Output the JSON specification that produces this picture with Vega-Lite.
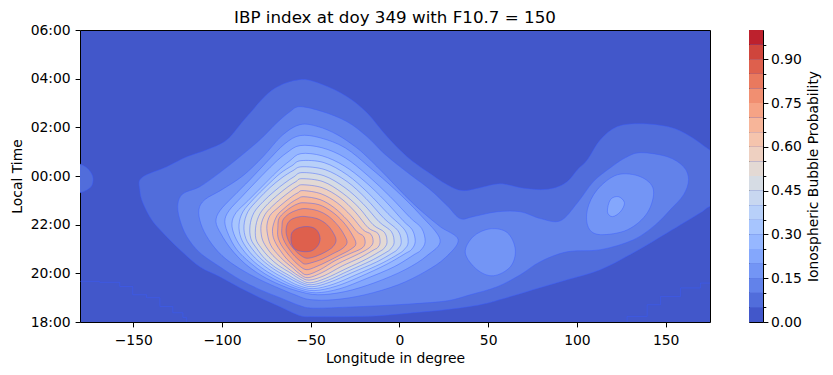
{
  "$schema": "https://vega.github.io/schema/vega-lite/v6.json",
  "padding": {"left": 10, "top": 9, "right": 5, "bottom": 5},
  "config": {
    "font": "DejaVu Sans",
    "view": {"stroke": "#000000", "strokeWidth": 1, "fill": "#4257ca"},
    "axis": {"labelFont": "DejaVu Sans", "titleFont": "DejaVu Sans", "labelFontSize": 13.9, "titleFontSize": 13.9, "titleFontWeight": "normal", "labelColor": "#000000", "titleColor": "#000000", "tickColor": "#000000", "tickSize": 4.9, "tickWidth": 1, "labelPadding": 4.9, "titlePadding": 5.6, "domain": false, "grid": false}
  },
  "datasets": {
    "contours": [
      {"p":"a","lvl":0.05,"lon":-56.0,"lt":27.96},{"p":"a","lvl":0.05,"lon":-43.1,"lt":27.75},{"p":"a","lvl":0.05,"lon":-29.5,"lt":27.26},{"p":"a","lvl":0.05,"lon":-18.3,"lt":26.60},{"p":"a","lvl":0.05,"lon":-7.0,"lt":25.62},{"p":"a","lvl":0.05,"lon":4.3,"lt":24.79},{"p":"a","lvl":0.05,"lon":15.6,"lt":24.18},{"p":"a","lvl":0.05,"lon":26.9,"lt":23.64},{"p":"a","lvl":0.05,"lon":35.4,"lt":23.40},{"p":"a","lvl":0.05,"lon":45.5,"lt":23.52},{"p":"a","lvl":0.05,"lon":56.8,"lt":23.68},{"p":"a","lvl":0.05,"lon":68.1,"lt":23.52},{"p":"a","lvl":0.05,"lon":79.4,"lt":23.44},{"p":"a","lvl":0.05,"lon":87.8,"lt":23.52},{"p":"a","lvl":0.05,"lon":94.6,"lt":23.77},{"p":"a","lvl":0.05,"lon":100.3,"lt":24.26},{"p":"a","lvl":0.05,"lon":105.9,"lt":24.67},{"p":"a","lvl":0.05,"lon":113.2,"lt":25.49},{"p":"a","lvl":0.05,"lon":122.8,"lt":26.03},{"p":"a","lvl":0.05,"lon":135.8,"lt":26.15},{"p":"a","lvl":0.05,"lon":151.0,"lt":26.03},{"p":"a","lvl":0.05,"lon":162.3,"lt":25.70},{"p":"a","lvl":0.05,"lon":174.7,"lt":25.08},{"p":"a","lvl":0.05,"lon":186.6,"lt":24.46},{"p":"a","lvl":0.05,"lon":186.6,"lt":23.03},{"p":"a","lvl":0.05,"lon":174.7,"lt":22.74},{"p":"a","lvl":0.05,"lon":169.6,"lt":22.49},{"p":"a","lvl":0.05,"lon":151.0,"lt":21.67},{"p":"a","lvl":0.05,"lon":131.9,"lt":20.85},{"p":"a","lvl":0.05,"lon":113.2,"lt":20.15},{"p":"a","lvl":0.05,"lon":94.6,"lt":19.74},{"p":"a","lvl":0.05,"lon":75.4,"lt":19.33},{"p":"a","lvl":0.05,"lon":56.8,"lt":18.92},{"p":"a","lvl":0.05,"lon":45.5,"lt":18.71},{"p":"a","lvl":0.05,"lon":26.9,"lt":18.51},{"p":"a","lvl":0.05,"lon":7.7,"lt":18.38},{"p":"a","lvl":0.05,"lon":-10.9,"lt":18.26},{"p":"a","lvl":0.05,"lon":-29.5,"lt":18.22},{"p":"a","lvl":0.05,"lon":-48.7,"lt":18.22},{"p":"a","lvl":0.05,"lon":-56.0,"lt":18.26},{"p":"a","lvl":0.05,"lon":-67.3,"lt":18.63},{"p":"a","lvl":0.05,"lon":-78.6,"lt":19.00},{"p":"a","lvl":0.05,"lon":-89.9,"lt":19.41},{"p":"a","lvl":0.05,"lon":-101.2,"lt":19.86},{"p":"a","lvl":0.05,"lon":-112.5,"lt":20.27},{"p":"a","lvl":0.05,"lon":-123.7,"lt":20.97},{"p":"a","lvl":0.05,"lon":-133.3,"lt":21.67},{"p":"a","lvl":0.05,"lon":-139.6,"lt":22.20},{"p":"a","lvl":0.05,"lon":-144.6,"lt":22.90},{"p":"a","lvl":0.05,"lon":-146.3,"lt":23.44},{"p":"a","lvl":0.05,"lon":-145.2,"lt":23.93},{"p":"a","lvl":0.05,"lon":-131.1,"lt":24.38},{"p":"a","lvl":0.05,"lon":-119.8,"lt":24.79},{"p":"a","lvl":0.05,"lon":-108.5,"lt":25.08},{"p":"a","lvl":0.05,"lon":-97.2,"lt":25.49},{"p":"a","lvl":0.05,"lon":-86.0,"lt":26.44},{"p":"a","lvl":0.05,"lon":-71.3,"lt":27.55},
      {"p":"b","lvl":0.05,"lon":-185.8,"lt":24.67},{"p":"b","lvl":0.05,"lon":-180.2,"lt":24.50},{"p":"b","lvl":0.05,"lon":-175.6,"lt":24.30},{"p":"b","lvl":0.05,"lon":-172.8,"lt":23.97},{"p":"b","lvl":0.05,"lon":-173.4,"lt":23.60},{"p":"b","lvl":0.05,"lon":-176.8,"lt":23.40},{"p":"b","lvl":0.05,"lon":-180.2,"lt":23.31},{"p":"b","lvl":0.05,"lon":-185.8,"lt":23.27},
      {"p":"c","lvl":0.1,"lon":-56.0,"lt":26.85},{"p":"c","lvl":0.1,"lon":-43.1,"lt":26.64},{"p":"c","lvl":0.1,"lon":-29.5,"lt":26.23},{"p":"c","lvl":0.1,"lon":-18.3,"lt":25.62},{"p":"c","lvl":0.1,"lon":-9.2,"lt":24.96},{"p":"c","lvl":0.1,"lon":0.4,"lt":24.38},{"p":"c","lvl":0.1,"lon":7.7,"lt":23.97},{"p":"c","lvl":0.1,"lon":17.3,"lt":23.44},{"p":"c","lvl":0.1,"lon":26.9,"lt":22.78},{"p":"c","lvl":0.1,"lon":34.2,"lt":22.25},{"p":"c","lvl":0.1,"lon":41.6,"lt":22.33},{"p":"c","lvl":0.1,"lon":55.1,"lt":22.53},{"p":"c","lvl":0.1,"lon":68.1,"lt":22.53},{"p":"c","lvl":0.1,"lon":79.4,"lt":22.25},{"p":"c","lvl":0.1,"lon":90.7,"lt":22.16},{"p":"c","lvl":0.1,"lon":100.3,"lt":22.90},{"p":"c","lvl":0.1,"lon":109.3,"lt":23.77},{"p":"c","lvl":0.1,"lon":118.9,"lt":24.34},{"p":"c","lvl":0.1,"lon":127.3,"lt":24.75},{"p":"c","lvl":0.1,"lon":135.8,"lt":24.96},{"p":"c","lvl":0.1,"lon":151.0,"lt":24.79},{"p":"c","lvl":0.1,"lon":160.1,"lt":24.38},{"p":"c","lvl":0.1,"lon":162.9,"lt":23.85},{"p":"c","lvl":0.1,"lon":160.1,"lt":23.23},{"p":"c","lvl":0.1,"lon":152.7,"lt":22.62},{"p":"c","lvl":0.1,"lon":144.3,"lt":22.00},{"p":"c","lvl":0.1,"lon":131.9,"lt":21.38},{"p":"c","lvl":0.1,"lon":113.2,"lt":20.97},{"p":"c","lvl":0.1,"lon":94.6,"lt":20.89},{"p":"c","lvl":0.1,"lon":79.4,"lt":20.48},{"p":"c","lvl":0.1,"lon":68.1,"lt":19.94},{"p":"c","lvl":0.1,"lon":55.1,"lt":19.45},{"p":"c","lvl":0.1,"lon":39.9,"lt":19.12},{"p":"c","lvl":0.1,"lon":26.9,"lt":18.87},{"p":"c","lvl":0.1,"lon":7.7,"lt":18.75},{"p":"c","lvl":0.1,"lon":-10.9,"lt":18.67},{"p":"c","lvl":0.1,"lon":-29.5,"lt":18.61},{"p":"c","lvl":0.1,"lon":-48.7,"lt":18.57},{"p":"c","lvl":0.1,"lon":-56.0,"lt":18.67},{"p":"c","lvl":0.1,"lon":-67.3,"lt":19.00},{"p":"c","lvl":0.1,"lon":-78.6,"lt":19.33},{"p":"c","lvl":0.1,"lon":-89.9,"lt":19.74},{"p":"c","lvl":0.1,"lon":-101.2,"lt":20.27},{"p":"c","lvl":0.1,"lon":-112.5,"lt":20.85},{"p":"c","lvl":0.1,"lon":-119.8,"lt":21.51},{"p":"c","lvl":0.1,"lon":-123.7,"lt":22.20},{"p":"c","lvl":0.1,"lon":-124.9,"lt":22.82},{"p":"c","lvl":0.1,"lon":-122.0,"lt":23.27},{"p":"c","lvl":0.1,"lon":-112.5,"lt":23.56},{"p":"c","lvl":0.1,"lon":-101.2,"lt":24.14},{"p":"c","lvl":0.1,"lon":-89.9,"lt":24.79},{"p":"c","lvl":0.1,"lon":-78.6,"lt":25.49},{"p":"c","lvl":0.1,"lon":-69.0,"lt":26.19},{"p":"c","lvl":0.1,"lon":-61.7,"lt":26.64},
      {"p":"d","lvl":0.15,"lon":-56.0,"lt":26.11},{"p":"d","lvl":0.15,"lon":-45.9,"lt":26.03},{"p":"d","lvl":0.15,"lon":-35.1,"lt":25.70},{"p":"d","lvl":0.15,"lon":-25.0,"lt":25.21},{"p":"d","lvl":0.15,"lon":-18.3,"lt":24.79},{"p":"d","lvl":0.15,"lon":-7.0,"lt":23.97},{"p":"d","lvl":0.15,"lon":3.2,"lt":23.19},{"p":"d","lvl":0.15,"lon":12.8,"lt":22.53},{"p":"d","lvl":0.15,"lon":22.9,"lt":21.92},{"p":"d","lvl":0.15,"lon":33.1,"lt":21.38},{"p":"d","lvl":0.15,"lon":25.8,"lt":20.64},{"p":"d","lvl":0.15,"lon":14.5,"lt":20.07},{"p":"d","lvl":0.15,"lon":-0.7,"lt":19.53},{"p":"d","lvl":0.15,"lon":-19.4,"lt":19.12},{"p":"d","lvl":0.15,"lon":-36.3,"lt":18.92},{"p":"d","lvl":0.15,"lon":-50.4,"lt":18.92},{"p":"d","lvl":0.15,"lon":-58.9,"lt":19.12},{"p":"d","lvl":0.15,"lon":-67.3,"lt":19.37},{"p":"d","lvl":0.15,"lon":-78.6,"lt":19.74},{"p":"d","lvl":0.15,"lon":-89.9,"lt":20.19},{"p":"d","lvl":0.15,"lon":-100.0,"lt":20.73},{"p":"d","lvl":0.15,"lon":-107.4,"lt":21.38},{"p":"d","lvl":0.15,"lon":-111.9,"lt":22.04},{"p":"d","lvl":0.15,"lon":-113.0,"lt":22.62},{"p":"d","lvl":0.15,"lon":-109.6,"lt":23.03},{"p":"d","lvl":0.15,"lon":-100.0,"lt":23.44},{"p":"d","lvl":0.15,"lon":-88.2,"lt":24.01},{"p":"d","lvl":0.15,"lon":-76.9,"lt":24.79},{"p":"d","lvl":0.15,"lon":-66.2,"lt":25.66},
      {"p":"e","lvl":0.15,"lon":37.1,"lt":20.84},{"p":"e","lvl":0.15,"lon":41.6,"lt":21.51},{"p":"e","lvl":0.15,"lon":51.2,"lt":21.83},{"p":"e","lvl":0.15,"lon":60.8,"lt":21.67},{"p":"e","lvl":0.15,"lon":65.3,"lt":20.97},{"p":"e","lvl":0.15,"lon":62.5,"lt":20.27},{"p":"e","lvl":0.15,"lon":52.9,"lt":19.90},{"p":"e","lvl":0.15,"lon":43.8,"lt":20.15},
      {"p":"f","lvl":0.15,"lon":105.9,"lt":22.62},{"p":"f","lvl":0.15,"lon":111.5,"lt":23.44},{"p":"f","lvl":0.15,"lon":122.8,"lt":24.05},{"p":"f","lvl":0.15,"lon":135.8,"lt":23.97},{"p":"f","lvl":0.15,"lon":143.1,"lt":23.44},{"p":"f","lvl":0.15,"lon":139.7,"lt":22.49},{"p":"f","lvl":0.15,"lon":128.5,"lt":21.79},{"p":"f","lvl":0.15,"lon":113.2,"lt":21.59},{"p":"f","lvl":0.15,"lon":106.5,"lt":21.88},
      {"p":"g","lvl":0.2,"lon":-56.0,"lt":25.66},{"p":"g","lvl":0.2,"lon":-44.7,"lt":25.57},{"p":"g","lvl":0.2,"lon":-30.6,"lt":25.16},{"p":"g","lvl":0.2,"lon":-16.5,"lt":24.34},{"p":"g","lvl":0.2,"lon":-2.4,"lt":23.44},{"p":"g","lvl":0.2,"lon":11.7,"lt":22.41},{"p":"g","lvl":0.2,"lon":22.9,"lt":21.38},{"p":"g","lvl":0.2,"lon":15.6,"lt":20.73},{"p":"g","lvl":0.2,"lon":3.2,"lt":20.15},{"p":"g","lvl":0.2,"lon":-13.8,"lt":19.62},{"p":"g","lvl":0.2,"lon":-30.6,"lt":19.25},{"p":"g","lvl":0.2,"lon":-45.9,"lt":19.12},{"p":"g","lvl":0.2,"lon":-57.2,"lt":19.27},{"p":"g","lvl":0.2,"lon":-67.3,"lt":19.53},{"p":"g","lvl":0.2,"lon":-77.5,"lt":19.90},{"p":"g","lvl":0.2,"lon":-87.1,"lt":20.40},{"p":"g","lvl":0.2,"lon":-95.0,"lt":21.01},{"p":"g","lvl":0.2,"lon":-100.6,"lt":21.63},{"p":"g","lvl":0.2,"lon":-103.4,"lt":22.12},{"p":"g","lvl":0.2,"lon":-101.2,"lt":22.57},{"p":"g","lvl":0.2,"lon":-93.8,"lt":23.15},{"p":"g","lvl":0.2,"lon":-84.2,"lt":23.85},{"p":"g","lvl":0.2,"lon":-74.1,"lt":24.63},{"p":"g","lvl":0.2,"lon":-64.5,"lt":25.33},
      {"p":"h","lvl":0.2,"lon":117.2,"lt":22.53},{"p":"h","lvl":0.2,"lon":118.9,"lt":23.03},{"p":"h","lvl":0.2,"lon":123.4,"lt":23.15},{"p":"h","lvl":0.2,"lon":126.8,"lt":22.90},{"p":"h","lvl":0.2,"lon":124.5,"lt":22.53},{"p":"h","lvl":0.2,"lon":120.0,"lt":22.33},
      {"p":"i","lvl":0.25,"lon":-56.0,"lt":25.25},{"p":"i","lvl":0.25,"lon":-43.6,"lt":25.16},{"p":"i","lvl":0.25,"lon":-30.6,"lt":24.75},{"p":"i","lvl":0.25,"lon":-17.7,"lt":24.01},{"p":"i","lvl":0.25,"lon":-5.2,"lt":23.15},{"p":"i","lvl":0.25,"lon":6.0,"lt":22.29},{"p":"i","lvl":0.25,"lon":12.5,"lt":21.85},{"p":"i","lvl":0.25,"lon":14.5,"lt":21.30},{"p":"i","lvl":0.25,"lon":12.0,"lt":20.95},{"p":"i","lvl":0.25,"lon":8.3,"lt":20.77},{"p":"i","lvl":0.25,"lon":-3.0,"lt":20.27},{"p":"i","lvl":0.25,"lon":-18.8,"lt":19.78},{"p":"i","lvl":0.25,"lon":-33.5,"lt":19.37},{"p":"i","lvl":0.25,"lon":-47.0,"lt":19.20},{"p":"i","lvl":0.25,"lon":-57.2,"lt":19.35},{"p":"i","lvl":0.25,"lon":-66.2,"lt":19.61},{"p":"i","lvl":0.25,"lon":-75.8,"lt":19.98},{"p":"i","lvl":0.25,"lon":-84.2,"lt":20.44},{"p":"i","lvl":0.25,"lon":-91.6,"lt":20.97},{"p":"i","lvl":0.25,"lon":-96.1,"lt":21.55},{"p":"i","lvl":0.25,"lon":-98.4,"lt":22.12},{"p":"i","lvl":0.25,"lon":-96.1,"lt":22.57},{"p":"i","lvl":0.25,"lon":-88.8,"lt":23.15},{"p":"i","lvl":0.25,"lon":-79.7,"lt":23.85},{"p":"i","lvl":0.25,"lon":-70.7,"lt":24.51},{"p":"i","lvl":0.25,"lon":-63.4,"lt":24.96},
      {"p":"j","lvl":0.3,"lon":-55.5,"lt":24.92},{"p":"j","lvl":0.3,"lon":-43.6,"lt":24.83},{"p":"j","lvl":0.3,"lon":-31.2,"lt":24.42},{"p":"j","lvl":0.3,"lon":-19.4,"lt":23.77},{"p":"j","lvl":0.3,"lon":-8.1,"lt":22.98},{"p":"j","lvl":0.3,"lon":2.1,"lt":22.16},{"p":"j","lvl":0.3,"lon":7.3,"lt":21.78},{"p":"j","lvl":0.3,"lon":8.9,"lt":21.30},{"p":"j","lvl":0.3,"lon":6.8,"lt":20.98},{"p":"j","lvl":0.3,"lon":3.2,"lt":20.81},{"p":"j","lvl":0.3,"lon":-7.5,"lt":20.36},{"p":"j","lvl":0.3,"lon":-22.2,"lt":19.86},{"p":"j","lvl":0.3,"lon":-35.7,"lt":19.47},{"p":"j","lvl":0.3,"lon":-48.1,"lt":19.29},{"p":"j","lvl":0.3,"lon":-57.2,"lt":19.43},{"p":"j","lvl":0.3,"lon":-65.6,"lt":19.70},{"p":"j","lvl":0.3,"lon":-74.1,"lt":20.05},{"p":"j","lvl":0.3,"lon":-82.0,"lt":20.48},{"p":"j","lvl":0.3,"lon":-88.2,"lt":20.97},{"p":"j","lvl":0.3,"lon":-92.7,"lt":21.51},{"p":"j","lvl":0.3,"lon":-94.4,"lt":22.04},{"p":"j","lvl":0.3,"lon":-92.1,"lt":22.49},{"p":"j","lvl":0.3,"lon":-85.4,"lt":22.98},{"p":"j","lvl":0.3,"lon":-77.5,"lt":23.56},{"p":"j","lvl":0.3,"lon":-69.0,"lt":24.18},{"p":"j","lvl":0.3,"lon":-61.7,"lt":24.63},
      {"p":"k","lvl":0.35,"lon":-55.5,"lt":24.63},{"p":"k","lvl":0.35,"lon":-42.5,"lt":24.55},{"p":"k","lvl":0.35,"lon":-29.5,"lt":24.05},{"p":"k","lvl":0.35,"lon":-17.7,"lt":23.31},{"p":"k","lvl":0.35,"lon":-6.4,"lt":22.45},{"p":"k","lvl":0.35,"lon":3.0,"lt":21.78},{"p":"k","lvl":0.35,"lon":4.9,"lt":21.26},{"p":"k","lvl":0.35,"lon":2.7,"lt":20.98},{"p":"k","lvl":0.35,"lon":-0.2,"lt":20.81},{"p":"k","lvl":0.35,"lon":-10.3,"lt":20.40},{"p":"k","lvl":0.35,"lon":-24.5,"lt":19.94},{"p":"k","lvl":0.35,"lon":-37.4,"lt":19.55},{"p":"k","lvl":0.35,"lon":-48.7,"lt":19.37},{"p":"k","lvl":0.35,"lon":-57.2,"lt":19.51},{"p":"k","lvl":0.35,"lon":-64.5,"lt":19.78},{"p":"k","lvl":0.35,"lon":-72.4,"lt":20.11},{"p":"k","lvl":0.35,"lon":-79.7,"lt":20.52},{"p":"k","lvl":0.35,"lon":-85.4,"lt":20.97},{"p":"k","lvl":0.35,"lon":-89.3,"lt":21.46},{"p":"k","lvl":0.35,"lon":-90.4,"lt":22.00},{"p":"k","lvl":0.35,"lon":-88.2,"lt":22.53},{"p":"k","lvl":0.35,"lon":-82.0,"lt":23.07},{"p":"k","lvl":0.35,"lon":-74.7,"lt":23.60},{"p":"k","lvl":0.35,"lon":-67.3,"lt":24.10},{"p":"k","lvl":0.35,"lon":-60.6,"lt":24.42},
      {"p":"l","lvl":0.4,"lon":-54.9,"lt":24.38},{"p":"l","lvl":0.4,"lon":-41.9,"lt":24.26},{"p":"l","lvl":0.4,"lon":-29.5,"lt":23.77},{"p":"l","lvl":0.4,"lon":-18.8,"lt":23.07},{"p":"l","lvl":0.4,"lon":-8.6,"lt":22.25},{"p":"l","lvl":0.4,"lon":-0.8,"lt":21.75},{"p":"l","lvl":0.4,"lon":1.0,"lt":21.26},{"p":"l","lvl":0.4,"lon":-1.2,"lt":20.98},{"p":"l","lvl":0.4,"lon":-3.6,"lt":20.85},{"p":"l","lvl":0.4,"lon":-13.1,"lt":20.46},{"p":"l","lvl":0.4,"lon":-26.7,"lt":20.03},{"p":"l","lvl":0.4,"lon":-39.1,"lt":19.64},{"p":"l","lvl":0.4,"lon":-49.3,"lt":19.45},{"p":"l","lvl":0.4,"lon":-56.6,"lt":19.60},{"p":"l","lvl":0.4,"lon":-63.4,"lt":19.86},{"p":"l","lvl":0.4,"lon":-70.7,"lt":20.17},{"p":"l","lvl":0.4,"lon":-77.5,"lt":20.56},{"p":"l","lvl":0.4,"lon":-82.6,"lt":20.97},{"p":"l","lvl":0.4,"lon":-86.5,"lt":21.42},{"p":"l","lvl":0.4,"lon":-87.6,"lt":21.96},{"p":"l","lvl":0.4,"lon":-85.4,"lt":22.53},{"p":"l","lvl":0.4,"lon":-79.7,"lt":23.03},{"p":"l","lvl":0.4,"lon":-73.0,"lt":23.52},{"p":"l","lvl":0.4,"lon":-66.2,"lt":23.93},{"p":"l","lvl":0.4,"lon":-60.0,"lt":24.22},
      {"p":"m","lvl":0.45,"lon":-54.9,"lt":24.14},{"p":"m","lvl":0.45,"lon":-42.5,"lt":24.01},{"p":"m","lvl":0.45,"lon":-30.7,"lt":23.52},{"p":"m","lvl":0.45,"lon":-20.5,"lt":22.86},{"p":"m","lvl":0.45,"lon":-11.5,"lt":22.12},{"p":"m","lvl":0.45,"lon":-4.6,"lt":21.72},{"p":"m","lvl":0.45,"lon":-3.0,"lt":21.26},{"p":"m","lvl":0.45,"lon":-5.0,"lt":21.00},{"p":"m","lvl":0.45,"lon":-6.9,"lt":20.89},{"p":"m","lvl":0.45,"lon":-16.0,"lt":20.52},{"p":"m","lvl":0.45,"lon":-28.4,"lt":20.11},{"p":"m","lvl":0.45,"lon":-40.2,"lt":19.72},{"p":"m","lvl":0.45,"lon":-49.8,"lt":19.53},{"p":"m","lvl":0.45,"lon":-56.6,"lt":19.68},{"p":"m","lvl":0.45,"lon":-62.8,"lt":19.94},{"p":"m","lvl":0.45,"lon":-69.6,"lt":20.23},{"p":"m","lvl":0.45,"lon":-75.8,"lt":20.60},{"p":"m","lvl":0.45,"lon":-80.3,"lt":21.01},{"p":"m","lvl":0.45,"lon":-83.7,"lt":21.42},{"p":"m","lvl":0.45,"lon":-84.2,"lt":21.96},{"p":"m","lvl":0.45,"lon":-82.0,"lt":22.49},{"p":"m","lvl":0.45,"lon":-76.9,"lt":22.94},{"p":"m","lvl":0.45,"lon":-70.7,"lt":23.36},{"p":"m","lvl":0.45,"lon":-64.5,"lt":23.72},{"p":"m","lvl":0.45,"lon":-59.4,"lt":23.97},
      {"p":"n","lvl":0.5,"lon":-54.9,"lt":23.89},{"p":"n","lvl":0.5,"lon":-43.1,"lt":23.77},{"p":"n","lvl":0.5,"lon":-32.3,"lt":23.31},{"p":"n","lvl":0.5,"lon":-22.8,"lt":22.70},{"p":"n","lvl":0.5,"lon":-14.9,"lt":22.00},{"p":"n","lvl":0.5,"lon":-8.4,"lt":21.68},{"p":"n","lvl":0.5,"lon":-7.0,"lt":21.26},{"p":"n","lvl":0.5,"lon":-8.8,"lt":21.02},{"p":"n","lvl":0.5,"lon":-10.4,"lt":20.93},{"p":"n","lvl":0.5,"lon":-18.8,"lt":20.58},{"p":"n","lvl":0.5,"lon":-30.1,"lt":20.19},{"p":"n","lvl":0.5,"lon":-41.4,"lt":19.80},{"p":"n","lvl":0.5,"lon":-50.4,"lt":19.61},{"p":"n","lvl":0.5,"lon":-56.0,"lt":19.76},{"p":"n","lvl":0.5,"lon":-61.7,"lt":20.03},{"p":"n","lvl":0.5,"lon":-67.9,"lt":20.31},{"p":"n","lvl":0.5,"lon":-73.5,"lt":20.66},{"p":"n","lvl":0.5,"lon":-78.0,"lt":21.05},{"p":"n","lvl":0.5,"lon":-80.9,"lt":21.42},{"p":"n","lvl":0.5,"lon":-80.9,"lt":21.96},{"p":"n","lvl":0.5,"lon":-78.6,"lt":22.45},{"p":"n","lvl":0.5,"lon":-74.1,"lt":22.86},{"p":"n","lvl":0.5,"lon":-68.5,"lt":23.23},{"p":"n","lvl":0.5,"lon":-62.8,"lt":23.56},{"p":"n","lvl":0.5,"lon":-58.3,"lt":23.77},
      {"p":"o","lvl":0.55,"lon":-54.3,"lt":23.64},{"p":"o","lvl":0.55,"lon":-43.6,"lt":23.52},{"p":"o","lvl":0.55,"lon":-33.5,"lt":23.11},{"p":"o","lvl":0.55,"lon":-25.0,"lt":22.53},{"p":"o","lvl":0.55,"lon":-17.7,"lt":21.88},{"p":"o","lvl":0.55,"lon":-12.1,"lt":21.64},{"p":"o","lvl":0.55,"lon":-10.9,"lt":21.26},{"p":"o","lvl":0.55,"lon":-12.5,"lt":21.04},{"p":"o","lvl":0.55,"lon":-14.3,"lt":20.97},{"p":"o","lvl":0.55,"lon":-22.2,"lt":20.64},{"p":"o","lvl":0.55,"lon":-32.3,"lt":20.30},{"p":"o","lvl":0.55,"lon":-42.5,"lt":19.90},{"p":"o","lvl":0.55,"lon":-51.0,"lt":19.72},{"p":"o","lvl":0.55,"lon":-56.0,"lt":19.86},{"p":"o","lvl":0.55,"lon":-61.1,"lt":20.11},{"p":"o","lvl":0.55,"lon":-66.2,"lt":20.40},{"p":"o","lvl":0.55,"lon":-71.3,"lt":20.73},{"p":"o","lvl":0.55,"lon":-75.2,"lt":21.10},{"p":"o","lvl":0.55,"lon":-77.5,"lt":21.46},{"p":"o","lvl":0.55,"lon":-78.0,"lt":21.96},{"p":"o","lvl":0.55,"lon":-75.8,"lt":22.41},{"p":"o","lvl":0.55,"lon":-71.9,"lt":22.74},{"p":"o","lvl":0.55,"lon":-66.8,"lt":23.07},{"p":"o","lvl":0.55,"lon":-61.7,"lt":23.36},{"p":"o","lvl":0.55,"lon":-57.8,"lt":23.56},
      {"p":"q1","lvl":0.6,"lon":-54.3,"lt":23.40},{"p":"q1","lvl":0.6,"lon":-44.2,"lt":23.27},{"p":"q1","lvl":0.6,"lon":-35.1,"lt":22.90},{"p":"q1","lvl":0.6,"lon":-27.3,"lt":22.37},{"p":"q1","lvl":0.6,"lon":-20.5,"lt":21.79},{"p":"q1","lvl":0.6,"lon":-16.0,"lt":21.60},{"p":"q1","lvl":0.6,"lon":-14.9,"lt":21.26},{"p":"q1","lvl":0.6,"lon":-17.7,"lt":21.01},{"p":"q1","lvl":0.6,"lon":-25.0,"lt":20.73},{"p":"q1","lvl":0.6,"lon":-34.6,"lt":20.40},{"p":"q1","lvl":0.6,"lon":-43.6,"lt":20.03},{"p":"q1","lvl":0.6,"lon":-51.5,"lt":19.82},{"p":"q1","lvl":0.6,"lon":-56.0,"lt":19.96},{"p":"q1","lvl":0.6,"lon":-60.0,"lt":20.21},{"p":"q1","lvl":0.6,"lon":-64.5,"lt":20.48},{"p":"q1","lvl":0.6,"lon":-69.0,"lt":20.81},{"p":"q1","lvl":0.6,"lon":-72.4,"lt":21.14},{"p":"q1","lvl":0.6,"lon":-74.1,"lt":21.51},{"p":"q1","lvl":0.6,"lon":-74.7,"lt":21.96},{"p":"q1","lvl":0.6,"lon":-73.0,"lt":22.37},{"p":"q1","lvl":0.6,"lon":-69.0,"lt":22.66},{"p":"q1","lvl":0.6,"lon":-64.5,"lt":22.94},{"p":"q1","lvl":0.6,"lon":-60.0,"lt":23.19},{"p":"q1","lvl":0.6,"lon":-57.2,"lt":23.31},
      {"p":"q2","lvl":0.65,"lon":-53.8,"lt":23.15},{"p":"q2","lvl":0.65,"lon":-44.7,"lt":23.03},{"p":"q2","lvl":0.65,"lon":-36.8,"lt":22.70},{"p":"q2","lvl":0.65,"lon":-29.5,"lt":22.20},{"p":"q2","lvl":0.65,"lon":-23.9,"lt":21.71},{"p":"q2","lvl":0.65,"lon":-20.2,"lt":21.52},{"p":"q2","lvl":0.65,"lon":-19.4,"lt":21.22},{"p":"q2","lvl":0.65,"lon":-21.6,"lt":21.01},{"p":"q2","lvl":0.65,"lon":-27.8,"lt":20.81},{"p":"q2","lvl":0.65,"lon":-36.3,"lt":20.52},{"p":"q2","lvl":0.65,"lon":-44.7,"lt":20.15},{"p":"q2","lvl":0.65,"lon":-52.1,"lt":19.94},{"p":"q2","lvl":0.65,"lon":-56.0,"lt":20.09},{"p":"q2","lvl":0.65,"lon":-59.4,"lt":20.31},{"p":"q2","lvl":0.65,"lon":-63.4,"lt":20.58},{"p":"q2","lvl":0.65,"lon":-66.7,"lt":20.89},{"p":"q2","lvl":0.65,"lon":-69.6,"lt":21.22},{"p":"q2","lvl":0.65,"lon":-71.3,"lt":21.55},{"p":"q2","lvl":0.65,"lon":-71.3,"lt":21.92},{"p":"q2","lvl":0.65,"lon":-69.0,"lt":22.37},{"p":"q2","lvl":0.65,"lon":-65.1,"lt":22.66},{"p":"q2","lvl":0.65,"lon":-61.1,"lt":22.90},{"p":"q2","lvl":0.65,"lon":-57.2,"lt":23.07},
      {"p":"r","lvl":0.7,"lon":-53.8,"lt":22.90},{"p":"r","lvl":0.7,"lon":-45.3,"lt":22.82},{"p":"r","lvl":0.7,"lon":-38.0,"lt":22.53},{"p":"r","lvl":0.7,"lon":-31.8,"lt":22.12},{"p":"r","lvl":0.7,"lon":-27.3,"lt":21.67},{"p":"r","lvl":0.7,"lon":-24.5,"lt":21.22},{"p":"r","lvl":0.7,"lon":-27.8,"lt":20.97},{"p":"r","lvl":0.7,"lon":-33.5,"lt":20.75},{"p":"r","lvl":0.7,"lon":-40.2,"lt":20.50},{"p":"r","lvl":0.7,"lon":-47.0,"lt":20.27},{"p":"r","lvl":0.7,"lon":-52.6,"lt":20.15},{"p":"r","lvl":0.7,"lon":-57.2,"lt":20.36},{"p":"r","lvl":0.7,"lon":-60.5,"lt":20.60},{"p":"r","lvl":0.7,"lon":-63.9,"lt":20.89},{"p":"r","lvl":0.7,"lon":-66.7,"lt":21.18},{"p":"r","lvl":0.7,"lon":-68.5,"lt":21.51},{"p":"r","lvl":0.7,"lon":-68.5,"lt":21.88},{"p":"r","lvl":0.7,"lon":-67.9,"lt":22.25},{"p":"r","lvl":0.7,"lon":-64.5,"lt":22.53},{"p":"r","lvl":0.7,"lon":-60.5,"lt":22.74},{"p":"r","lvl":0.7,"lon":-57.2,"lt":22.86},
      {"p":"s","lvl":0.75,"lon":-53.2,"lt":22.66},{"p":"s","lvl":0.75,"lon":-45.9,"lt":22.57},{"p":"s","lvl":0.75,"lon":-39.7,"lt":22.33},{"p":"s","lvl":0.75,"lon":-34.6,"lt":21.96},{"p":"s","lvl":0.75,"lon":-31.2,"lt":21.59},{"p":"s","lvl":0.75,"lon":-29.5,"lt":21.26},{"p":"s","lvl":0.75,"lon":-32.3,"lt":21.01},{"p":"s","lvl":0.75,"lon":-37.4,"lt":20.81},{"p":"s","lvl":0.75,"lon":-43.6,"lt":20.58},{"p":"s","lvl":0.75,"lon":-49.3,"lt":20.44},{"p":"s","lvl":0.75,"lon":-53.3,"lt":20.38},{"p":"s","lvl":0.75,"lon":-55.5,"lt":20.48},{"p":"s","lvl":0.75,"lon":-58.9,"lt":20.70},{"p":"s","lvl":0.75,"lon":-61.9,"lt":20.97},{"p":"s","lvl":0.75,"lon":-64.5,"lt":21.26},{"p":"s","lvl":0.75,"lon":-66.2,"lt":21.59},{"p":"s","lvl":0.75,"lon":-66.2,"lt":21.92},{"p":"s","lvl":0.75,"lon":-65.6,"lt":22.20},{"p":"s","lvl":0.75,"lon":-62.2,"lt":22.45},{"p":"s","lvl":0.75,"lon":-57.7,"lt":22.60},
      {"p":"t","lvl":0.8,"lon":-52.6,"lt":22.33},{"p":"t","lvl":0.8,"lon":-46.5,"lt":22.25},{"p":"t","lvl":0.8,"lon":-41.4,"lt":22.04},{"p":"t","lvl":0.8,"lon":-38.0,"lt":21.75},{"p":"t","lvl":0.8,"lon":-35.7,"lt":21.38},{"p":"t","lvl":0.8,"lon":-37.4,"lt":21.10},{"p":"t","lvl":0.8,"lon":-41.4,"lt":20.89},{"p":"t","lvl":0.8,"lon":-47.0,"lt":20.70},{"p":"t","lvl":0.8,"lon":-52.1,"lt":20.62},{"p":"t","lvl":0.8,"lon":-55.5,"lt":20.73},{"p":"t","lvl":0.8,"lon":-58.9,"lt":20.95},{"p":"t","lvl":0.8,"lon":-61.7,"lt":21.22},{"p":"t","lvl":0.8,"lon":-63.4,"lt":21.51},{"p":"t","lvl":0.8,"lon":-63.9,"lt":21.79},{"p":"t","lvl":0.8,"lon":-62.8,"lt":22.08},{"p":"t","lvl":0.8,"lon":-60.0,"lt":22.25},{"p":"t","lvl":0.8,"lon":-56.0,"lt":22.33},
      {"p":"u","lvl":0.85,"lon":-53.3,"lt":21.92},{"p":"u","lvl":0.85,"lon":-48.7,"lt":21.88},{"p":"u","lvl":0.85,"lon":-45.9,"lt":21.71},{"p":"u","lvl":0.85,"lon":-44.7,"lt":21.42},{"p":"u","lvl":0.85,"lon":-45.9,"lt":21.14},{"p":"u","lvl":0.85,"lon":-49.3,"lt":20.93},{"p":"u","lvl":0.85,"lon":-53.8,"lt":20.89},{"p":"u","lvl":0.85,"lon":-58.3,"lt":20.97},{"p":"u","lvl":0.85,"lon":-60.6,"lt":21.18},{"p":"u","lvl":0.85,"lon":-61.1,"lt":21.42},{"p":"u","lvl":0.85,"lon":-60.6,"lt":21.67},{"p":"u","lvl":0.85,"lon":-57.8,"lt":21.84}
    ],
    "zero": [
      {"p":"z1","lon":-181.0,"lt":19.67},{"p":"z1","lon":-168.9,"lt":19.63},{"p":"z1","lon":-157.6,"lt":19.46},{"p":"z1","lon":-150.3,"lt":19.12},{"p":"z1","lon":-142.5,"lt":19.00},{"p":"z1","lon":-135.0,"lt":18.64},{"p":"z1","lon":-127.7,"lt":18.38},{"p":"z1","lon":-122.0,"lt":18.18},{"p":"z1","lon":-119.9,"lt":17.95},
      {"p":"z2","lon":120.9,"lt":17.95},{"p":"z2","lon":128.3,"lt":18.23},{"p":"z2","lon":139.6,"lt":18.71},{"p":"z2","lon":147.1,"lt":19.05},{"p":"z2","lon":158.4,"lt":19.40},{"p":"z2","lon":169.6,"lt":19.60},{"p":"z2","lon":176.0,"lt":19.64}
    ],
    "bar": [
      {"lo":0,"hi":0.05},{"lo":0.05,"hi":0.1},{"lo":0.1,"hi":0.15},{"lo":0.15,"hi":0.2},{"lo":0.2,"hi":0.25},{"lo":0.25,"hi":0.3},{"lo":0.3,"hi":0.35},{"lo":0.35,"hi":0.4},{"lo":0.4,"hi":0.45},{"lo":0.45,"hi":0.5},{"lo":0.5,"hi":0.55},{"lo":0.55,"hi":0.6},{"lo":0.6,"hi":0.65},{"lo":0.65,"hi":0.7},{"lo":0.7,"hi":0.75},{"lo":0.75,"hi":0.8},{"lo":0.8,"hi":0.85},{"lo":0.85,"hi":0.9},{"lo":0.9,"hi":0.95},{"lo":0.95,"hi":1}
    ]
  },
  "spacing": 37,
  "hconcat": [
    {
      "title": {"text": "IBP index at doy 349 with F10.7 = 150", "font": "DejaVu Sans", "fontSize": 16.7, "fontWeight": "normal", "color": "#000000", "anchor": "middle", "offset": -4},
      "width": 630,
      "height": 292,
      "layer": [
        {
          "data": {"name": "contours"},
          "mark": {"type": "line", "interpolate": "cardinal-closed", "clip": true, "stroke": "#3a5cff", "strokeOpacity": 0.55, "strokeWidth": 0.8},
          "encoding": {
            "x": {"field": "lon", "type": "quantitative", "scale": {"domain": [-180, 175], "nice": false, "zero": false}, "axis": {"values": [-150, -100, -50, 0, 50, 100, 150], "title": "Longitude in degree", "labelPadding": 6.9, "titlePadding": 3.6}},
            "y": {"field": "lt", "type": "quantitative", "scale": {"domain": [18, 30], "nice": false, "zero": false}, "axis": {"values": [18, 20, 22, 24, 26, 28, 30], "labelExpr": "(datum.value % 24 < 10 ? '0' : '') + (datum.value % 24) + ':00'", "title": "Local Time"}},
            "detail": {"field": "p", "type": "nominal"},
            "order": {"value": null},
            "fill": {"field": "lvl", "type": "quantitative", "legend": null, "scale": {"type": "threshold", "domain": [0.05, 0.1, 0.15, 0.2, 0.25, 0.3, 0.35, 0.4, 0.45, 0.5, 0.55, 0.6, 0.65, 0.7, 0.75, 0.8, 0.85, 0.9, 0.95], "range": ["#4257ca", "#516ddb", "#6282ea", "#7395f5", "#84a7fc", "#96b7ff", "#a7c5fe", "#b8d0f9", "#c8d7f0", "#d6dce4", "#e3d9d4", "#eed0c1", "#f5c4ad", "#f7b599", "#f6a385", "#f18f71", "#e9795e", "#de604d", "#cf453c", "#bd212d"]}}
          }
        },
        {
          "data": {"name": "zero"},
          "mark": {"type": "line", "interpolate": "step-after", "clip": true, "stroke": "#3a5cff", "strokeOpacity": 0.55, "strokeWidth": 0.8},
          "encoding": {
            "x": {"field": "lon", "type": "quantitative"},
            "y": {"field": "lt", "type": "quantitative"},
            "detail": {"field": "p", "type": "nominal"},
            "order": {"value": null}
          }
        }
      ]
    },
    {
      "width": 14,
      "height": 292,
      "data": {"name": "bar"},
      "layer": [
        {
          "mark": {"type": "rect"},
          "encoding": {
            "x": {"datum": 0, "type": "quantitative", "scale": {"domain": [0, 1], "nice": false, "zero": false}, "axis": null},
            "x2": {"datum": 1},
            "y": {"field": "lo", "type": "quantitative", "scale": {"domain": [0, 1], "nice": false, "zero": false}, "axis": {"orient": "right", "values": [0, 0.15, 0.3, 0.45, 0.6, 0.75, 0.9], "format": ".2f", "labelPadding": 2.5, "title": "Ionospheric Bubble Probability", "titleAngle": 270, "titleBaseline": "top", "titlePadding": 5.5}},
            "y2": {"field": "hi"},
            "fill": {"field": "lo", "type": "quantitative", "legend": null, "scale": {"type": "threshold", "domain": [0.05, 0.1, 0.15, 0.2, 0.25, 0.3, 0.35, 0.4, 0.45, 0.5, 0.55, 0.6, 0.65, 0.7, 0.75, 0.8, 0.85, 0.9, 0.95], "range": ["#4257ca", "#516ddb", "#6282ea", "#7395f5", "#84a7fc", "#96b7ff", "#a7c5fe", "#b8d0f9", "#c8d7f0", "#d6dce4", "#e3d9d4", "#eed0c1", "#f5c4ad", "#f7b599", "#f6a385", "#f18f71", "#e9795e", "#de604d", "#cf453c", "#bd212d"]}}
          }
        },
        {
          "mark": {"type": "rect", "opacity": 0},
          "encoding": {
            "x": {"datum": 0, "type": "quantitative", "scale": {"domain": [0, 1], "nice": false, "zero": false}, "axis": null},
            "x2": {"datum": 1},
            "y": {"field": "lo", "type": "quantitative", "scale": {"domain": [0, 1], "nice": false, "zero": false}, "axis": {"orient": "right", "values": [0.05, 0.1, 0.2, 0.25, 0.35, 0.4, 0.5, 0.55, 0.65, 0.7, 0.8, 0.85, 0.95], "labels": false, "tickSize": 2.8, "title": null}},
            "y2": {"field": "hi"}
          }
        }
      ],
      "resolve": {"axis": {"y": "independent"}}
    }
  ]
}
